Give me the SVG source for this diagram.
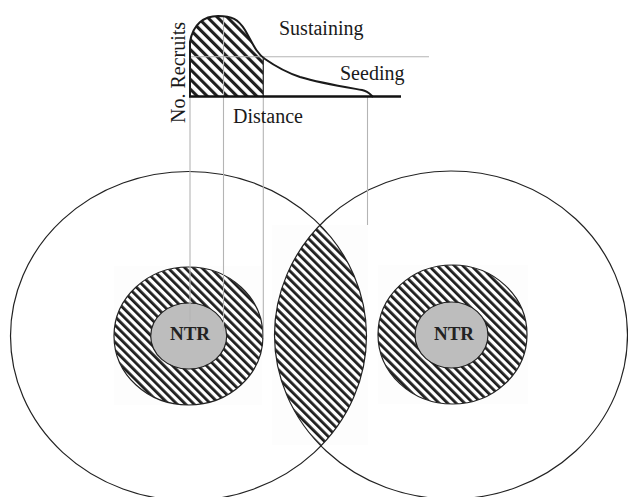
<svg xmlns="http://www.w3.org/2000/svg" width="628" height="497" viewBox="0 0 628 497">
<style>
.lbl{font-family:"Liberation Serif","Times New Roman",serif;font-size:20px;fill:#1a1a1a}
.ntr{font-family:"Liberation Serif","Times New Roman",serif;font-size:19px;font-weight:bold;fill:#222;text-anchor:middle}
.big{fill:none;stroke:#222;stroke-width:1.2}
.ring{fill:url(#hatch);stroke:#222;stroke-width:1.2}
.core{fill:#bdbdbd;stroke:#222;stroke-width:1.2}
.guide{stroke:#b4b4b4;stroke-width:1.1;fill:none}
.bg{fill:#fdfdfd}
</style>
<defs>
<pattern id="hatch" width="6" height="10" patternUnits="userSpaceOnUse" patternTransform="rotate(-45)">
<rect width="6" height="10" fill="#fff"/>
<rect width="2.8" height="10" fill="#1e1e1e"/>
</pattern>
<pattern id="hatch2" width="7" height="10" patternUnits="userSpaceOnUse" patternTransform="rotate(-45)">
<rect width="7" height="10" fill="#fff"/>
<rect width="3.1" height="10" fill="#1e1e1e"/>
</pattern>
<clipPath id="rightClip"><ellipse cx="451" cy="335" rx="176.5" ry="164"/></clipPath>
</defs>
<rect width="628" height="497" fill="#fff"/>

<g id="backgrounds">
<rect class="bg" x="114" y="266" width="148" height="139"/>
<rect class="bg" x="378" y="265" width="150" height="139"/>
<rect class="bg" x="272" y="225" width="96" height="220"/>
</g>

<g id="overlap">
<ellipse cx="188.5" cy="336" rx="178" ry="164.5" fill="url(#hatch)" clip-path="url(#rightClip)"/>
</g>

<g id="left-range">
<ellipse class="big" cx="188.5" cy="336" rx="178" ry="164.5"/>
</g>
<g id="right-range">
<ellipse class="big" cx="451" cy="335" rx="176.5" ry="164"/>
</g>

<g id="left-site">
<ellipse class="ring" cx="188.5" cy="336" rx="74.5" ry="69"/>
<ellipse class="core" cx="188.7" cy="336" rx="38" ry="33"/>
</g>
<g id="right-site">
<ellipse class="ring" cx="452.5" cy="334.5" rx="74.5" ry="69.5"/>
<ellipse class="core" cx="451.5" cy="335" rx="36.5" ry="33"/>
</g>

<g id="connectors">
<line class="guide" x1="190" y1="97" x2="190" y2="322"/>
<line class="guide" x1="223.5" y1="16" x2="223.5" y2="331"/>
<line class="guide" x1="263.3" y1="97" x2="263.3" y2="338"/>
<line class="guide" x1="367.5" y1="97" x2="367.5" y2="225"/>
<line class="guide" x1="190" y1="56.7" x2="429" y2="56.7"/>
</g>

<g id="chart">
<path d="M190,97 L190,42 C193,24 204,16 218,16 C232,16 238,19 245,30 C252,42 256,53 263.3,57.5 L263.3,97 Z" fill="url(#hatch2)"/>
<line class="guide" x1="190" y1="56.7" x2="263.3" y2="56.7"/>
<line class="guide" x1="223.5" y1="16" x2="223.5" y2="97"/>
<path d="M190,97 L190,42 C193,24 204,16 218,16 C232,16 238,19 245,30 C252,42 256,53 265,59 C275,66 285,72 300,77 C320,83 345,87 362,90 C368,91 370,94 373,97" fill="none" stroke="#1a1a1a" stroke-width="2"/>
<line x1="263.3" y1="57.5" x2="263.3" y2="97" stroke="#333" stroke-width="1.3"/>
<line x1="189" y1="96.5" x2="401" y2="96.5" stroke="#111" stroke-width="2.6"/>
<text class="lbl" x="279" y="35">Sustaining</text>
<text class="lbl" x="340" y="80">Seeding</text>
<text class="lbl" x="233" y="123">Distance</text>
<text class="lbl" transform="translate(185,123) rotate(-90)">No. Recruits</text>
</g>

<g id="labels">
<text class="ntr" x="190" y="339.5">NTR</text>
<text class="ntr" x="454" y="339.5">NTR</text>
</g>
</svg>
